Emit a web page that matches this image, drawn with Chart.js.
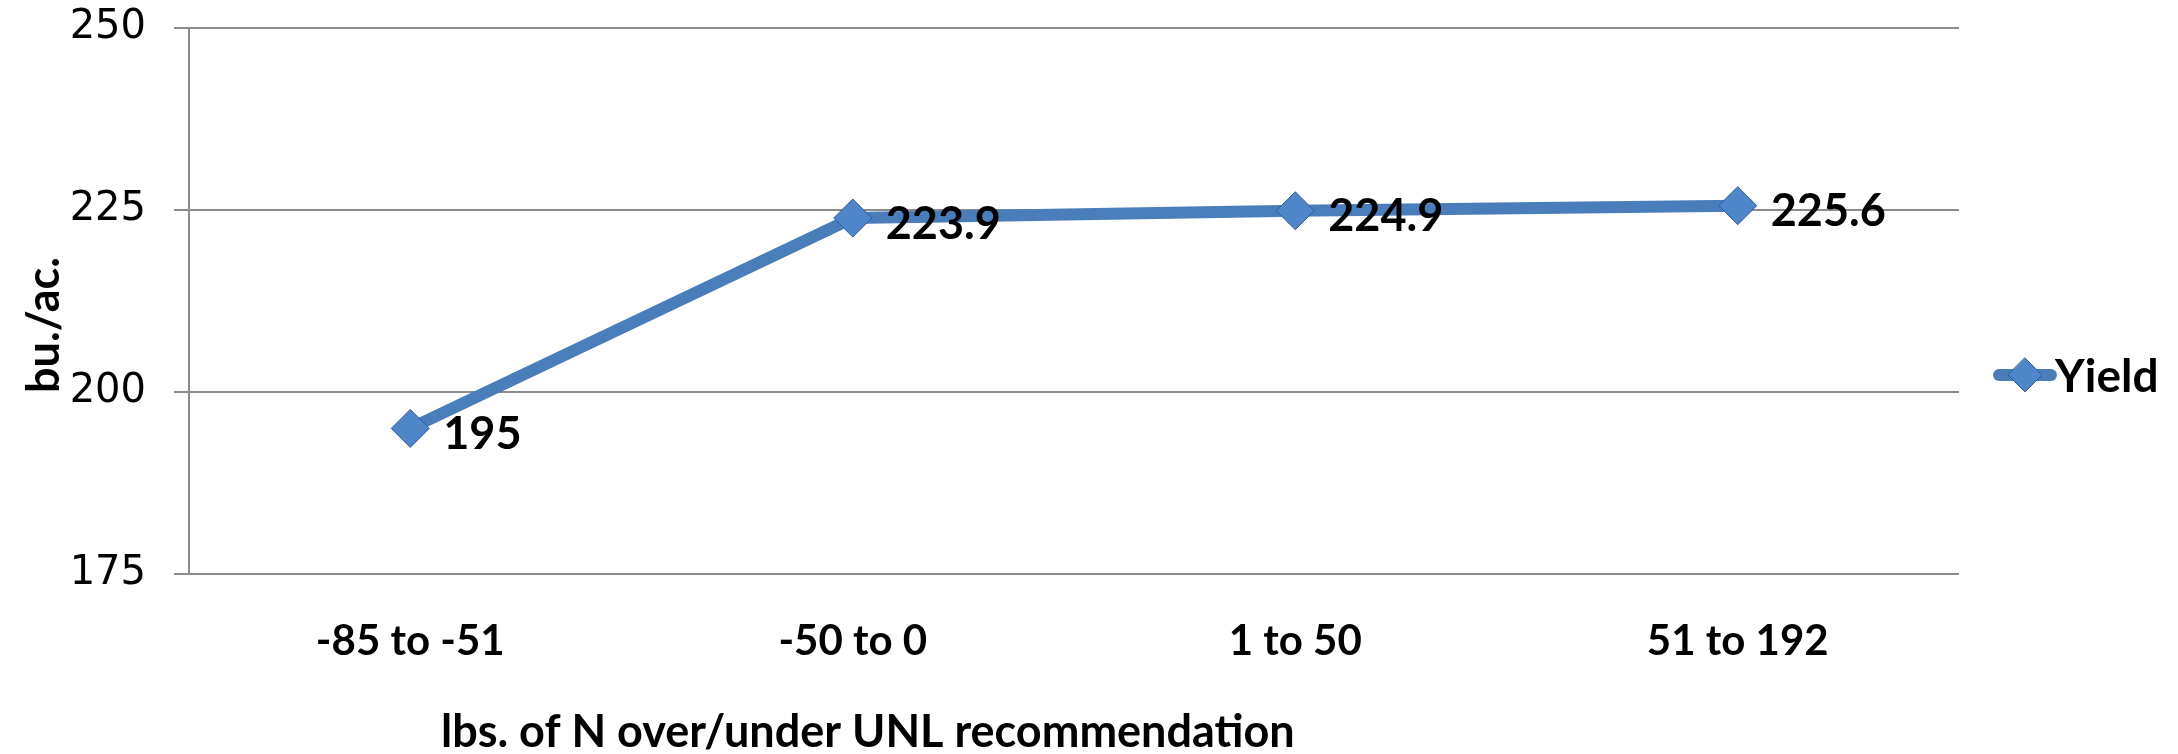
<!DOCTYPE html>
<html>
<head>
<meta charset="utf-8">
<script src="https://cdn.jsdelivr.net/npm/chart.js@4.4.1/dist/chart.umd.min.js"></script>
<style>
  html, body { margin: 0; padding: 0; background: #fff; }
  #wrap { width: 2178px; height: 754px; position: relative; }
</style>
</head>
<body>
<div id="wrap"><canvas id="yieldChart"></canvas></div>
<script>
// Chart data
const categories = ['-85 to -51', '-50 to 0', '1 to 50', '51 to 192'];
const yieldValues = [195, 223.9, 224.9, 225.6];
const yTicks = [175, 200, 225, 250];
const seriesName = 'Yield';
const xTitle = 'lbs. of N over/under UNL recommendation';
const yTitle = 'bu./ac.';

const BLUE = '#4a7ebb';
const BOLD_FONT = 'Lato, "Open Sans", sans-serif';

// value labels next to each marker
const valueLabels = {
    id: 'valueLabels',
    afterDatasetsDraw(chart) {
        const ctx = chart.ctx;
        const meta = chart.getDatasetMeta(0);
        ctx.save();
        ctx.font = 'bold 45px ' + BOLD_FONT;
        ctx.fillStyle = '#000';
        ctx.textAlign = 'left';
        ctx.textBaseline = 'middle';
        meta.data.forEach(function(pt, i) {
            ctx.fillText(String(yieldValues[i]), pt.x + 33, pt.y + 6);
        });
        ctx.restore();
    }
};

// axis titles and legend drawn by hand to match the original placement
const extras = {
    id: 'extras',
    afterDraw(chart) {
        const ctx = chart.ctx;
        const area = chart.chartArea;
        ctx.save();
        ctx.fillStyle = '#000';
        ctx.textAlign = 'left';
        ctx.textBaseline = 'middle';
        // x title: sized to span the same width as the original
        ctx.font = 'bold 42px ' + BOLD_FONT;
        const w = ctx.measureText(xTitle).width;
        const size = Math.round(42 * 846 / w);
        ctx.font = 'bold ' + size + 'px ' + BOLD_FONT;
        ctx.fillText(xTitle, 441, 732);

        ctx.save();
        ctx.font = 'bold 45px ' + BOLD_FONT;
        ctx.translate(44, 325);
        ctx.rotate(-Math.PI / 2);
        ctx.textAlign = 'center';
        ctx.fillText(yTitle, 0, 0);
        ctx.restore();

        // legend
        const ly = 375;
        const lx = area.right + 34;
        ctx.strokeStyle = BLUE;
        ctx.lineWidth = 12;
        ctx.lineCap = 'round';
        ctx.beginPath();
        ctx.moveTo(lx + 6, ly);
        ctx.lineTo(lx + 58, ly);
        ctx.stroke();
        const r = 17;
        ctx.fillStyle = '#4f86c9';
        ctx.strokeStyle = '#2c5a94';
        ctx.lineWidth = 1;
        ctx.beginPath();
        ctx.moveTo(lx + 32, ly - r);
        ctx.lineTo(lx + 32 + r, ly);
        ctx.lineTo(lx + 32, ly + r);
        ctx.lineTo(lx + 32 - r, ly);
        ctx.closePath();
        ctx.fill();
        ctx.stroke();
        ctx.fillStyle = '#000';
        ctx.font = 'bold 46px ' + BOLD_FONT;
        ctx.textAlign = 'left';
        ctx.fillText(seriesName, lx + 62, ly + 2);
        ctx.restore();
    }
};

new Chart(document.getElementById('yieldChart'), {
    type: 'line',
    data: {
        labels: categories,
        datasets: [{
            label: seriesName,
            data: yieldValues,
            borderColor: BLUE,
            backgroundColor: BLUE,
            borderWidth: 12,
            pointStyle: 'rectRot',
            pointRadius: 19,
            pointBorderColor: '#2c5a94',
            pointBorderWidth: 1,
            pointBackgroundColor: '#4f86c9',
            tension: 0
        }]
    },
    options: {
        responsive: true,
        maintainAspectRatio: false,
        animation: false,
        layout: { padding: { top: 28, right: 219, bottom: 0, left: 0 } },
        plugins: {
            legend: { display: false },
            tooltip: { enabled: false }
        },
        scales: {
            x: {
                offset: true,
                grid: { display: false, drawTicks: false },
                border: { display: false },
                ticks: {
                    color: '#000',
                    padding: 42,
                    font: { family: BOLD_FONT, size: 42, weight: 'bold' }
                },
                afterFit(axis) { axis.height = 180; }
            },
            y: {
                min: 175,
                max: 250,
                afterBuildTicks(axis) { axis.ticks = yTicks.map(v => ({ value: v })); },
                grid: { color: '#8c8c8c', lineWidth: 2, tickLength: 15 },
                border: { color: '#8c8c8c', width: 2 },
                ticks: {
                    color: '#000',
                    padding: 28,
                    font: { family: '"DejaVu Sans", sans-serif', size: 40 }
                },
                afterFit(axis) {
                    axis.width = 189;
                    axis.paddingTop = 0;
                    axis.paddingBottom = 0;
                }
            }
        }
    },
    plugins: [valueLabels, extras]
});
</script>
</body>
</html>
